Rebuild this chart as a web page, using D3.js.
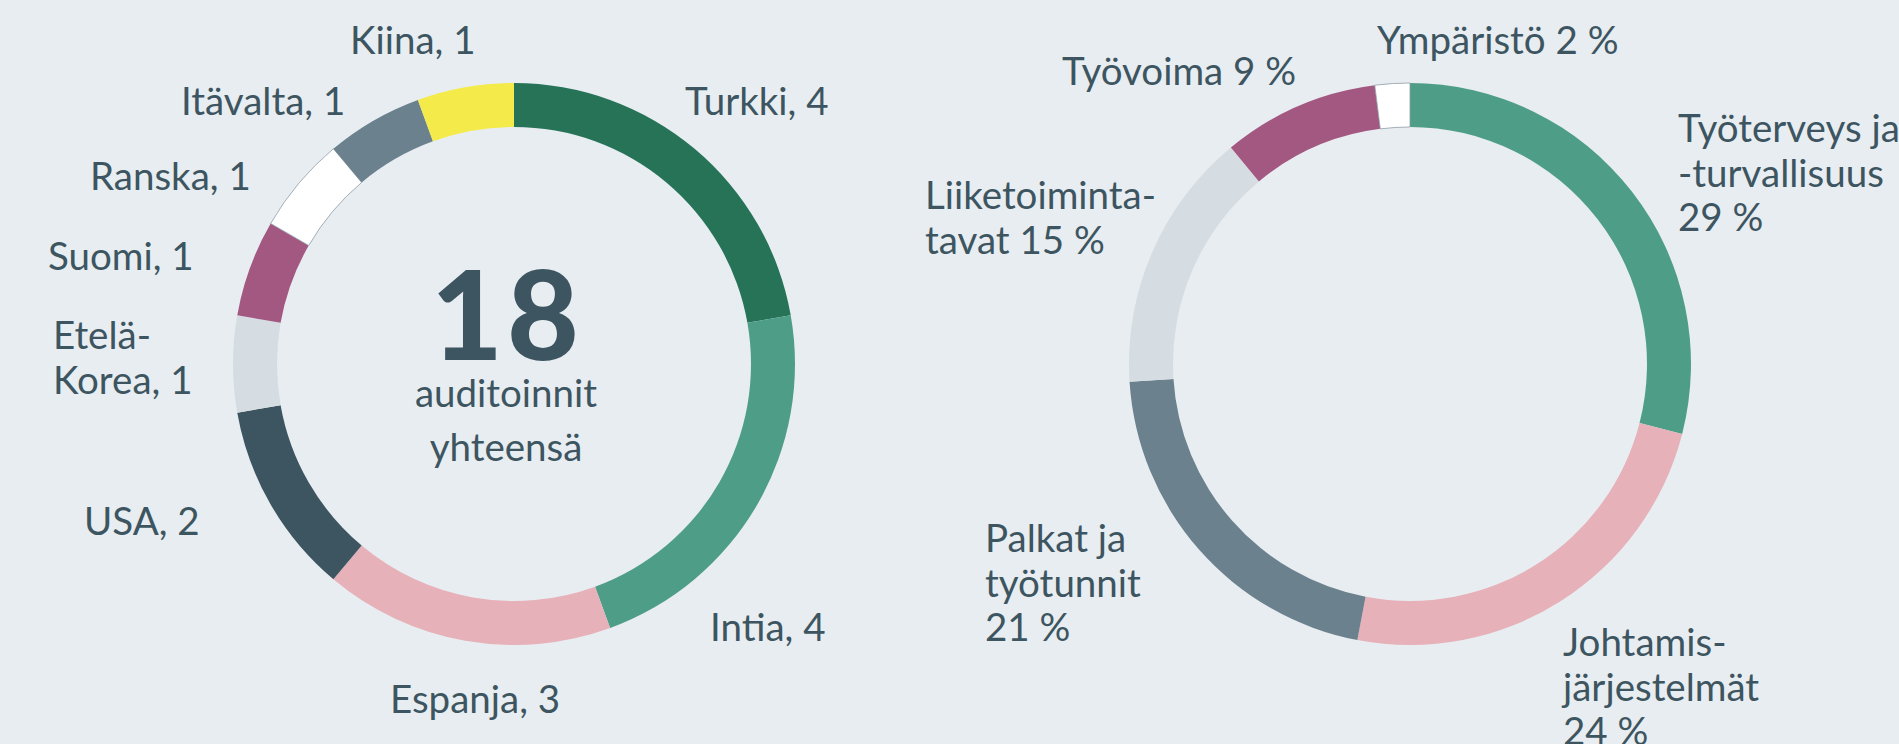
<!DOCTYPE html>
<html>
<head>
<meta charset="UTF-8">
<title>Auditoinnit</title>
<script src="https://cdn.jsdelivr.net/npm/d3@7"></script>
<style>
  html, body { margin: 0; padding: 0; background: #e8edf1; }
  svg { display: block; }
  text { font-family: Lato, "Noto Sans", sans-serif; fill: #3d5560; }
</style>
</head>
<body>
<script>
// audits per country (left donut)
var countries = ["Turkki", "Intia", "Espanja", "USA", "Etelä-\nKorea", "Suomi", "Ranska", "Itävalta", "Kiina"];
var audits = [4, 4, 3, 2, 1, 1, 1, 1, 1];
var countryColors = ["#267358", "#4e9e87", "#e6b1b9", "#3d5560", "#d5dde2", "#a35882", "#ffffff", "#6b828e", "#f4eb4a"];

// findings by topic, % (right donut)
var topics = ["Työterveys ja\n-turvallisuus", "Johtamis-\njärjestelmät", "Palkat ja\ntyötunnit", "Liiketoiminta-\ntavat", "Työvoima", "Ympäristö"];
var topicShares = [29, 24, 21, 15, 9, 2];
var topicSep = ["\n", "\n", "\n", " ", " ", " "];
var topicColors = ["#4e9e87", "#e6b1b9", "#6b828e", "#d5dde2", "#a35882", "#ffffff"];

var totalLabel = "auditoinnit\nyhteensä";

var W = 1899, H = 744;
var rOuter = 281, rInner = 237;
var lineH = 44.5;
var fontSize = 38.5;

var svg = d3.select("body").append("svg")
    .attr("width", W)
    .attr("height", H);

// label spots relative to donut centre (first baseline), hand placed like the original
var leftSpots = [[171, -249], [196, 277], [-124, 349], [-430, 171], [-461, -15], [-466, -94], [-424, -174], [-333, -249], [-164, -310]];
var rightSpots = [[268, -222], [153, 292], [-425, 188], [-485, -155], [-348, -279], [-33, -310]];

function donut(cx, cy, values, colors, labels, spots) {
    var pie = d3.pie().sort(null).value(function (d) { return d; });
    var arc = d3.arc().innerRadius(rInner).outerRadius(rOuter);
    var g = svg.append("g").attr("transform", "translate(" + cx + "," + cy + ")");

    g.selectAll("path")
        .data(pie(values))
        .enter()
        .append("path")
        .attr("d", arc)
        .attr("fill", function (d, i) { return colors[i]; })
        .attr("stroke", function (d, i) { return colors[i] === "#ffffff" ? "#8e9ca6" : "none"; })
        .attr("stroke-width", 0.8);

    var t = g.selectAll("text.lbl")
        .data(labels)
        .enter()
        .append("text")
        .attr("class", "lbl")
        .attr("font-size", fontSize)
        .attr("x", function (d, i) { return spots[i][0]; })
        .attr("y", function (d, i) { return spots[i][1]; });

    t.selectAll("tspan")
        .data(function (d, i) { return d.split("\n").map(function (s) { return { s: s, x: spots[i][0] }; }); })
        .enter()
        .append("tspan")
        .attr("x", function (d) { return d.x; })
        .attr("dy", function (d, j) { return j === 0 ? 0 : lineH; })
        .text(function (d) { return d.s; });
    return g;
}

var leftLabels = countries.map(function (c, i) { return c + ", " + audits[i]; });
var rightLabels = topics.map(function (c, i) { return c + topicSep[i] + topicShares[i] + " %"; });

var left = donut(514, 364, audits, countryColors, leftLabels, leftSpots);
donut(1410, 364, topicShares, topicColors, rightLabels, rightSpots);

// total in the middle of the left donut
left.append("text")
    .attr("x", -7)
    .attr("y", -4)
    .attr("text-anchor", "middle")
    .attr("font-size", 124)
    .attr("font-weight", 900)
    .attr("letter-spacing", 4)
    .text(d3.sum(audits));

left.selectAll("text.sub")
    .data(totalLabel.split("\n"))
    .enter()
    .append("text")
    .attr("class", "sub")
    .attr("x", -8)
    .attr("y", function (d, i) { return 43 + i * 54; })
    .attr("text-anchor", "middle")
    .attr("font-size", fontSize)
    .text(function (d) { return d; });
</script>
</body>
</html>
